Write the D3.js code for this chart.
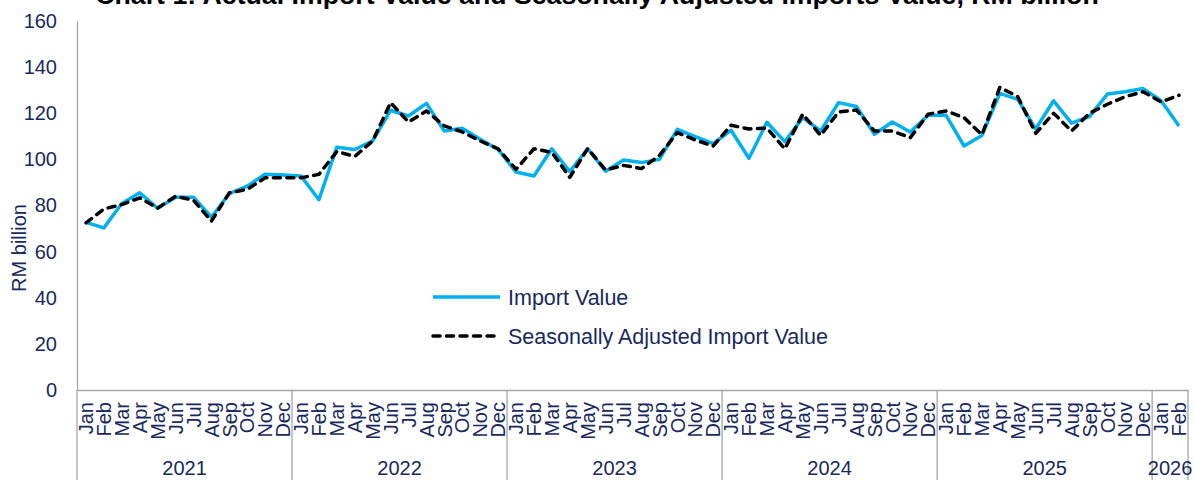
<!DOCTYPE html>
<html>
<head>
<meta charset="utf-8">
<script src="https://cdn.jsdelivr.net/npm/d3@7"></script>
<style>
  html, body { margin: 0; padding: 0; background: #fff; }
  svg { display: block; font-family: "Liberation Sans", Arial, sans-serif; }
</style>
</head>
<body>
<svg id="chart" width="1194" height="480"></svg>
<script>
const years = ["2021", "2022", "2023", "2024", "2025", "2026"];
const monthNames = ["Jan","Feb","Mar","Apr","May","Jun","Jul","Aug","Sep","Oct","Nov","Dec"];
const yTicks = [0, 20, 40, 60, 80, 100, 120, 140, 160];

const importValue = [
  72.7, 70.3, 80.9, 85.5, 78.8, 83.6, 83.6, 74.9, 85.2, 88.4, 93.6, 93.2,
  92.8, 82.5, 105.3, 104.3, 108.0, 121.3, 118.8, 124.3, 112.3, 113.5, 108.7, 104.3,
  94.5, 92.8, 104.6, 94.7, 104.6, 94.9, 99.7, 98.6, 100.0, 113.0, 109.9, 106.8,
  112.6, 100.5, 116.1, 107.7, 118.1, 112.3, 124.6, 122.9, 110.9, 116.2, 111.9, 119.1,
  119.1, 105.8, 110.4, 128.6, 126.0, 113.2, 125.4, 115.7, 118.5, 128.3, 129.3, 130.7,
  125.4, 114.5
];
const saImportValue = [
  72.5, 78.5, 80.4, 83.3, 78.9, 84.0, 82.3, 73.2, 85.5, 87.0, 92.0, 92.0,
  92.0, 93.5, 103.4, 101.3, 108.0, 124.6, 116.2, 121.0, 114.5, 111.9, 108.0, 104.6,
  95.7, 104.6, 103.0, 92.2, 104.7, 95.4, 97.4, 96.0, 101.7, 111.6, 108.4, 105.8,
  114.8, 113.2, 113.6, 104.6, 119.6, 110.4, 120.6, 121.4, 112.3, 112.3, 109.4, 119.6,
  121.0, 118.1, 110.7, 131.2, 127.2, 111.3, 120.0, 112.3, 120.0, 123.9, 127.2, 129.3,
  124.9, 127.8
];

// build category list (year, month)
const categories = importValue.map((_, i) => ({
  key: years[Math.floor(i / 12)] + "-" + monthNames[i % 12],
  year: years[Math.floor(i / 12)],
  month: monthNames[i % 12]
}));

const textColor = "#17295e";
const axisColor = "#a6a6a6";

const svg = d3.select("#chart");
const mLeft = 77, mRight = 1188, mTop = 21, mBottom = 390;

const x = d3.scaleBand().domain(categories.map(d => d.key)).range([mLeft, mRight]).padding(0);
const y = d3.scaleLinear().domain([0, 160]).range([mBottom, mTop]);

// Title (partly cut off at top, as in reference)
svg.append("text")
  .attr("x", 597).attr("y", 4)
  .attr("text-anchor", "middle")
  .attr("font-weight", "bold")
  .attr("font-size", 26.7)
  .attr("fill", "#000")
  .text("Chart 1: Actual Import Value and Seasonally Adjusted Imports Value, RM billion");

// Y axis
const yAxis = d3.axisLeft(y).tickValues(yTicks).tickSize(0).tickPadding(20);
const gy = svg.append("g").attr("transform", `translate(${mLeft},0)`).call(yAxis);
gy.select(".domain").attr("stroke", axisColor).attr("stroke-width", 1.3);
gy.selectAll("text").attr("font-size", 20).attr("fill", textColor)
  .attr("font-family", "Liberation Sans, Arial, sans-serif");

// Y axis title
svg.append("text")
  .attr("transform", `translate(26,248) rotate(-90)`)
  .attr("text-anchor", "middle")
  .attr("font-size", 20)
  .attr("fill", textColor)
  .text("RM billion");

// X axis (months)
const xAxis = d3.axisBottom(x).tickSize(0).tickFormat(k => k.split("-")[1]);
const gx = svg.append("g").attr("transform", `translate(0,${mBottom})`).call(xAxis);
gx.select(".domain").attr("stroke", axisColor).attr("stroke-width", 1.3);
gx.selectAll(".tick text")
  .attr("font-size", 20)
  .attr("fill", textColor)
  .attr("font-family", "Liberation Sans, Arial, sans-serif")
  .attr("text-anchor", "end")
  .attr("transform", "translate(0,12) rotate(-90)")
  .attr("x", 0).attr("y", 0).attr("dy", "0.36em");

// year separators and labels
const yearGroups = d3.groups(categories, d => d.year);
const bw = x.bandwidth();
const sepX = yearGroups.map(([yr, arr]) => x(arr[0].key));
sepX.push(x(categories[categories.length - 1].key) + bw);
svg.append("g").selectAll("line").data(sepX).join("line")
  .attr("x1", d => d).attr("x2", d => d)
  .attr("y1", mBottom).attr("y2", 480)
  .attr("stroke", axisColor).attr("stroke-width", 1.3);

svg.append("g").selectAll("text").data(yearGroups).join("text")
  .attr("x", ([yr, arr]) => (x(arr[0].key) + x(arr[arr.length - 1].key) + bw) / 2)
  .attr("y", 475)
  .attr("text-anchor", "middle")
  .attr("font-size", 20)
  .attr("fill", textColor)
  .text(([yr]) => yr);

// Lines
const line = d3.line().x((d, i) => x(categories[i].key) + bw / 2).y(d => y(d));

svg.append("path").datum(importValue)
  .attr("fill", "none").attr("stroke", "#00b0f0").attr("stroke-width", 3.5)
  .attr("stroke-linejoin", "round")
  .attr("d", line);

svg.append("path").datum(saImportValue)
  .attr("fill", "none").attr("stroke", "#000").attr("stroke-width", 3.5)
  .attr("stroke-dasharray", "7,6.5").attr("stroke-linecap", "round")
  .attr("stroke-linejoin", "round")
  .attr("d", line);

// Legend
const legend = [
  { label: "Import Value", color: "#00b0f0", dash: null, cap: "butt", y: 297 },
  { label: "Seasonally Adjusted Import Value", color: "#000", dash: "7,6.5", cap: "round", y: 336 }
];
const lg = svg.append("g").selectAll("g").data(legend).join("g");
lg.append("line")
  .attr("x1", 433).attr("x2", 500)
  .attr("y1", d => d.y).attr("y2", d => d.y)
  .attr("stroke", d => d.color).attr("stroke-width", 3.5)
  .attr("stroke-linecap", d => d.cap)
  .attr("stroke-dasharray", d => d.dash);
lg.append("text")
  .attr("x", 508).attr("y", d => d.y).attr("dy", "0.35em")
  .attr("font-size", 21.5)
  .attr("fill", textColor)
  .text(d => d.label);
</script>
</body>
</html>
